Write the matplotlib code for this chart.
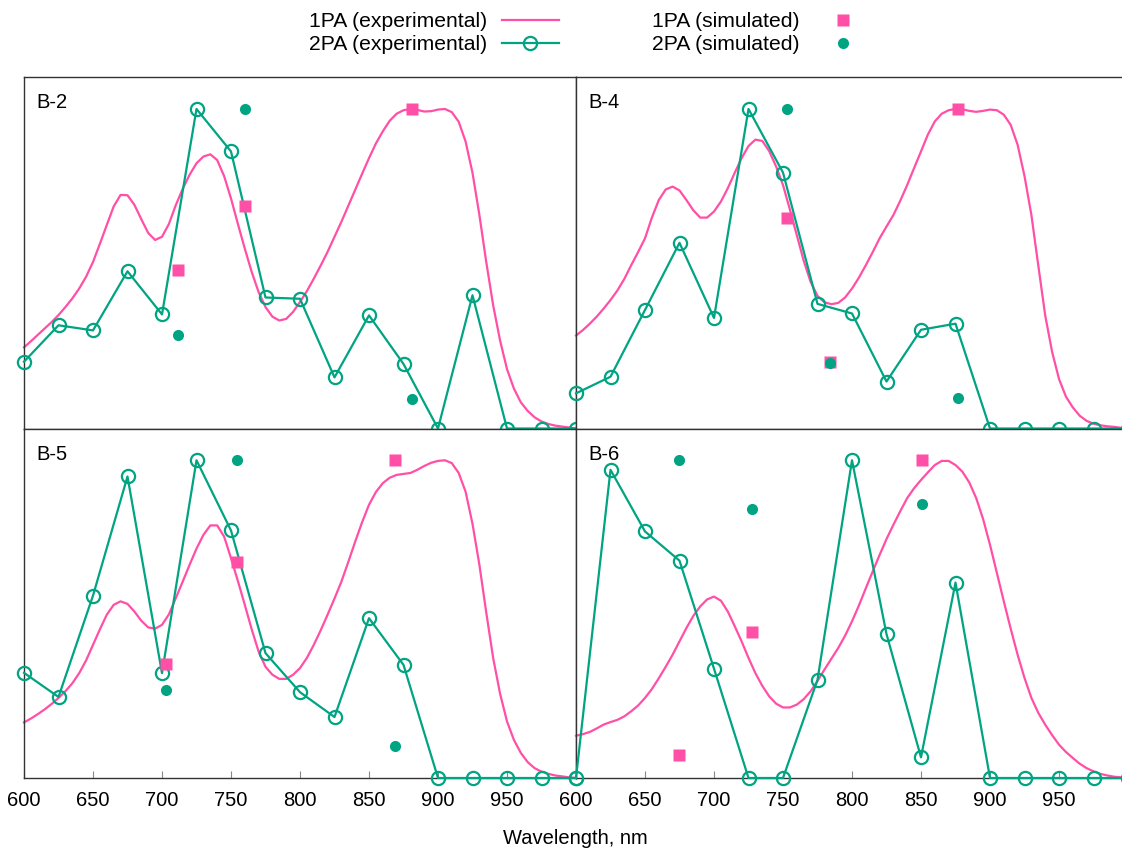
import matplotlib.pyplot as plt
from matplotlib.lines import Line2D

plt.rcParams['font.family'] = ['Liberation Sans', 'DejaVu Sans']

PINK = '#ff4fa6'
GREEN = '#00a482'
FS = 14.5

# 2PA experimental, every 25 nm from 600 to 1000
wl_2pa = list(range(600, 1001, 25))
# 1PA experimental, every 5 nm from 600 to 1000
wl_1pa = list(range(600, 1001, 5))

# ---- B-2
b2_2pa = [0.209, 0.323, 0.307, 0.492, 0.357, 1.0, 0.867, 0.410, 0.406, 0.160, 0.354, 0.202,
          0.0, 0.417, 0.0, 0.0, 0.0]
b2_1pa = [0.254, 0.273, 0.293, 0.313, 0.333, 0.355, 0.380, 0.407, 0.438, 0.475,
          0.521, 0.578, 0.637, 0.695, 0.731, 0.730, 0.700, 0.655, 0.612, 0.590,
          0.600, 0.640, 0.699, 0.750, 0.794, 0.830, 0.851, 0.858, 0.840, 0.790,
          0.720, 0.640, 0.563, 0.490, 0.427, 0.380, 0.350, 0.338, 0.343, 0.365,
          0.396, 0.430, 0.469, 0.510, 0.553, 0.600, 0.647, 0.697, 0.747, 0.797,
          0.846, 0.892, 0.930, 0.963, 0.985, 0.996, 1.0, 0.997, 0.992, 0.993,
          0.998, 1.0, 0.990, 0.960, 0.898, 0.800, 0.668, 0.520, 0.385, 0.275,
          0.186, 0.125, 0.082, 0.055, 0.035, 0.022, 0.014, 0.009, 0.006, 0.003,
          0.0]
b2_sim_wl = [711.6, 760.5, 881.5]
b2_sim_1pa = [0.495, 0.696, 1.0]
b2_sim_2pa = [0.293, 1.0, 0.092]

# ---- B-4
b4_2pa = [0.110, 0.162, 0.371, 0.581, 0.346, 1.0, 0.801, 0.390, 0.360, 0.147, 0.309, 0.328,
          0.0, 0.0, 0.0, 0.0, 0.0]
b4_1pa = [0.291, 0.308, 0.328, 0.350, 0.375, 0.402, 0.432, 0.468, 0.511, 0.552,
          0.595, 0.660, 0.715, 0.748, 0.757, 0.745, 0.715, 0.683, 0.660, 0.660,
          0.679, 0.710, 0.752, 0.800, 0.846, 0.884, 0.904, 0.900, 0.868, 0.820,
          0.762, 0.685, 0.605, 0.525, 0.459, 0.415, 0.395, 0.389, 0.393, 0.410,
          0.438, 0.472, 0.511, 0.552, 0.595, 0.632, 0.668, 0.713, 0.762, 0.815,
          0.867, 0.920, 0.961, 0.985, 0.996, 1.0, 0.999, 0.994, 0.991, 0.994,
          0.998, 0.996, 0.982, 0.950, 0.888, 0.790, 0.668, 0.510, 0.354, 0.240,
          0.155, 0.100, 0.066, 0.040, 0.024, 0.015, 0.010, 0.007, 0.005, 0.002,
          0.0]
b4_sim_wl = [753.0, 784.0, 877.0]
b4_sim_1pa = [0.660, 0.207, 1.0]
b4_sim_2pa = [1.0, 0.205, 0.097]

# ---- B-5
b5_2pa = [0.331, 0.255, 0.574, 0.949, 0.330, 1.0, 0.779, 0.393, 0.270, 0.192, 0.503, 0.356,
          0.0, 0.0, 0.0, 0.0, 0.0]
b5_1pa = [0.175, 0.187, 0.201, 0.216, 0.233, 0.252, 0.273, 0.298, 0.330, 0.370,
          0.419, 0.468, 0.514, 0.545, 0.556, 0.548, 0.524, 0.495, 0.474, 0.470,
          0.482, 0.515, 0.566, 0.618, 0.671, 0.722, 0.765, 0.795, 0.795, 0.760,
          0.692, 0.620, 0.545, 0.468, 0.398, 0.350, 0.325, 0.312, 0.312, 0.325,
          0.346, 0.378, 0.419, 0.465, 0.514, 0.565, 0.618, 0.680, 0.744, 0.805,
          0.860, 0.900, 0.928, 0.945, 0.954, 0.957, 0.960, 0.970, 0.982, 0.992,
          0.998, 1.0, 0.991, 0.960, 0.901, 0.800, 0.671, 0.520, 0.377, 0.265,
          0.178, 0.120, 0.079, 0.050, 0.031, 0.020, 0.013, 0.008, 0.005, 0.002,
          0.0]
b5_sim_wl = [702.9, 754.3, 868.8]
b5_sim_1pa = [0.360, 0.681, 1.0]
b5_sim_2pa = [0.276, 1.0, 0.100]

# ---- B-6
b6_2pa = [0.0, 0.970, 0.776, 0.684, 0.344, 0.0, 0.0, 0.309, 1.0, 0.453, 0.065, 0.615,
          0.0, 0.0, 0.0, 0.0, 0.0]
b6_1pa = [0.133, 0.138, 0.145, 0.156, 0.168, 0.176, 0.183, 0.194, 0.210, 0.228,
          0.252, 0.280, 0.314, 0.350, 0.388, 0.430, 0.472, 0.510, 0.540, 0.562,
          0.571, 0.558, 0.524, 0.478, 0.430, 0.378, 0.330, 0.290, 0.257, 0.234,
          0.222, 0.222, 0.231, 0.248, 0.273, 0.305, 0.341, 0.375, 0.409, 0.448,
          0.493, 0.543, 0.597, 0.650, 0.702, 0.752, 0.797, 0.840, 0.881, 0.912,
          0.938, 0.962, 0.985, 0.998, 0.998, 0.985, 0.964, 0.930, 0.881, 0.815,
          0.734, 0.645, 0.556, 0.470, 0.388, 0.315, 0.252, 0.205, 0.168, 0.135,
          0.105, 0.082, 0.063, 0.045, 0.031, 0.021, 0.013, 0.008, 0.004, 0.002,
          0.0]
b6_sim_wl = [674.5, 727.5, 850.5]
b6_sim_1pa = [0.073, 0.459, 1.0]
b6_sim_2pa = [1.0, 0.846, 0.862]

panels = [
    ('B-2', b2_1pa, b2_2pa, b2_sim_wl, b2_sim_1pa, b2_sim_2pa),
    ('B-4', b4_1pa, b4_2pa, b4_sim_wl, b4_sim_1pa, b4_sim_2pa),
    ('B-5', b5_1pa, b5_2pa, b5_sim_wl, b5_sim_1pa, b5_sim_2pa),
    ('B-6', b6_1pa, b6_2pa, b6_sim_wl, b6_sim_1pa, b6_sim_2pa),
]

W, H = 1122, 851
fig = plt.figure(figsize=(W / 100, H / 100), dpi=100)

# panel boxes in pixels: (left, top, width, height); right column runs past the edge
boxes = [(24, 77, 552, 351.5), (576, 77, 552, 351.5),
         (24, 428.5, 552, 349.5), (576, 428.5, 552, 349.5)]

for i, (name, y1, y2, swl, s1, s2) in enumerate(panels):
    l, t, w, h = boxes[i]
    ax = fig.add_axes([l / W, 1 - (t + h) / H, w / W, h / H])
    ax.plot(wl_1pa, y1, color=PINK, lw=1.6, zorder=2, clip_on=False)
    ax.plot(wl_2pa, y2, color=GREEN, lw=1.6, marker='o', ms=9.5, mfc='none', mew=1.6,
            zorder=3, clip_on=False)
    ax.plot(swl, s1, ls='none', marker='s', ms=8, color=PINK, mec='none', zorder=4, clip_on=False)
    ax.plot(swl, s2, ls='none', marker='o', ms=8, color=GREEN, mec='none', zorder=4, clip_on=False)
    ax.set_xlim(600, 1000)
    ax.set_ylim(0, 1.1)
    ax.set_yticks([])
    ax.text(12 / w, 1 - 16 / h, name, transform=ax.transAxes, fontsize=FS,
            ha='left', va='top')
    for sp in ax.spines.values():
        sp.set_color('#333333')
        sp.set_linewidth(1.0)
    if i >= 2:
        ax.set_xticks(range(600, 1000, 50))
        ax.tick_params(axis='x', direction='in', length=5, width=0.8, color='#888888',
                       labelsize=FS, pad=9)
    else:
        ax.set_xticks([])

fig.text(575 / W, 1 - 838 / H, 'Wavelength, nm', ha='center', va='center', fontsize=FS)

handles = [
    Line2D([], [], color=PINK, lw=1.6),
    Line2D([], [], color=GREEN, lw=1.6, marker='o', ms=9.5, mfc='none', mew=1.6),
    Line2D([], [], ls='none', marker='s', ms=8, color=PINK, mec='none'),
    Line2D([], [], ls='none', marker='o', ms=8, color=GREEN, mec='none'),
]
labels = ['1PA (experimental)', '2PA (experimental)', '1PA (simulated)', '2PA (simulated)']
fig.legend(handles, labels, ncol=2, markerfirst=False, frameon=False, fontsize=15.2,
           loc='center', bbox_to_anchor=(590 / W, 1 - 33 / H), handlelength=2.7,
           columnspacing=4.4, labelspacing=0.18, handletextpad=0.7, borderpad=0)

fig.savefig('out.png', dpi=100)
